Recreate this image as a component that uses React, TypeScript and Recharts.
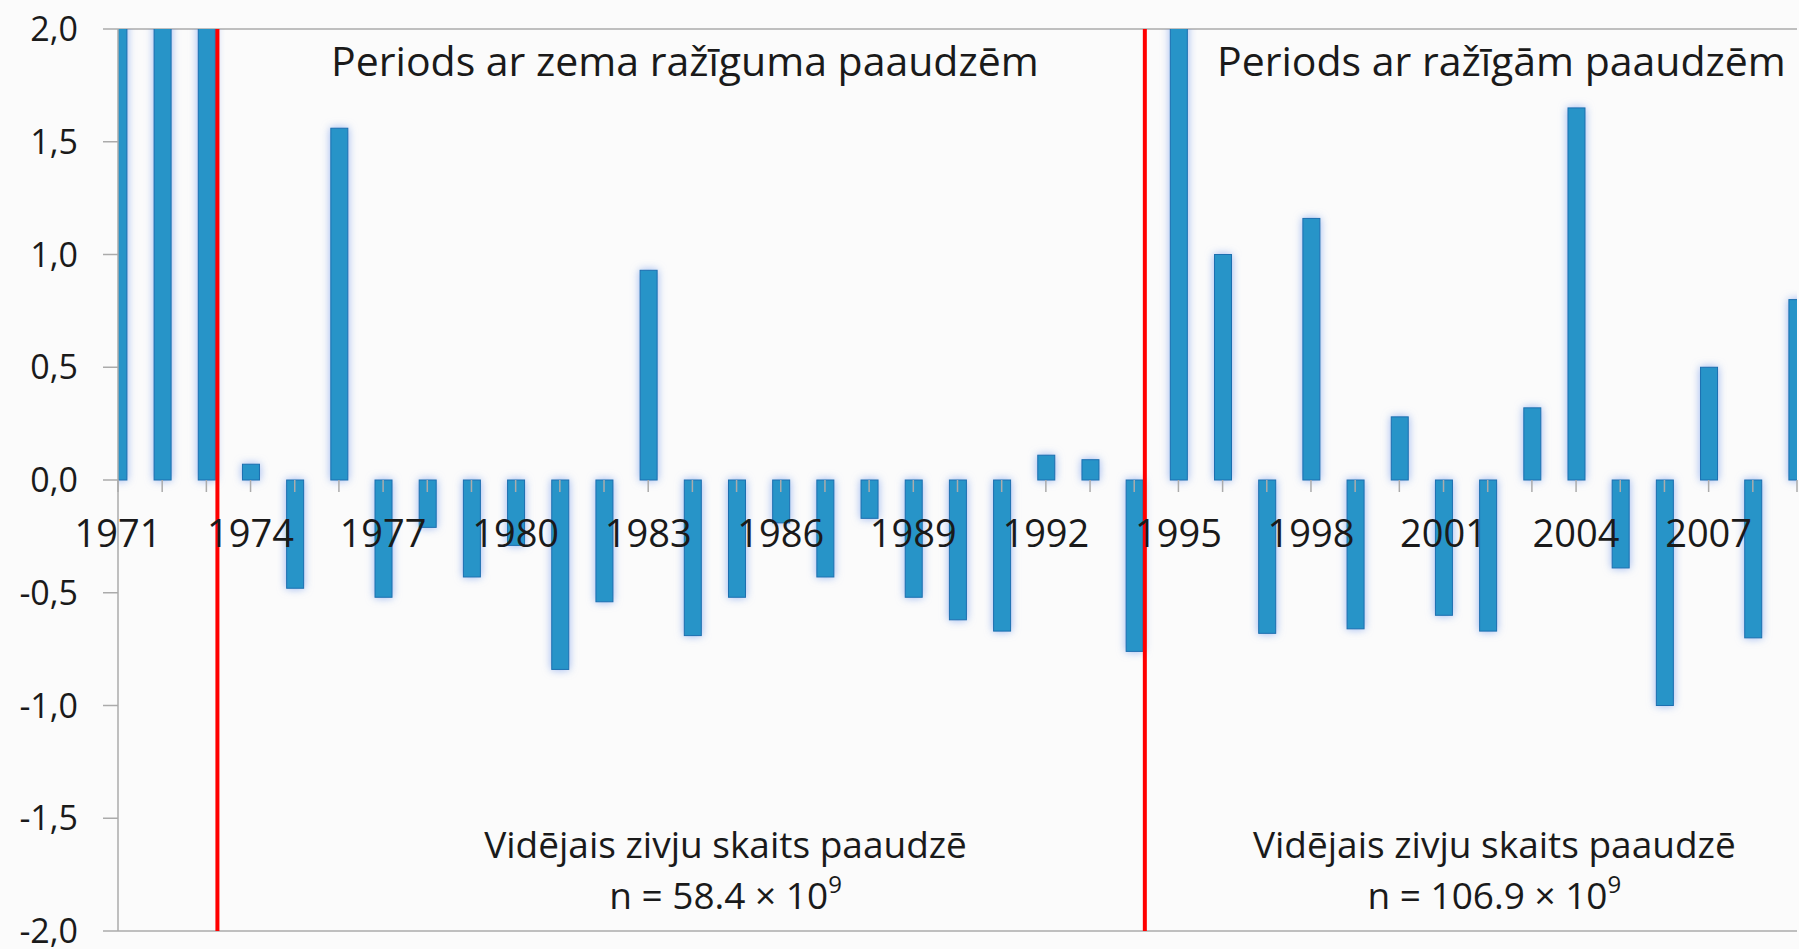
import React from 'react';
import {
  ComposedChart,
  Bar,
  Scatter,
  XAxis,
  YAxis,
  CartesianGrid,
  ReferenceLine,
  ReferenceDot,
} from 'recharts';

// years of recruitment and the standardised anomaly per year
const years = [
  1971, 1972, 1973, 1974, 1975, 1976, 1977, 1978, 1979, 1980,
  1981, 1982, 1983, 1984, 1985, 1986, 1987, 1988, 1989, 1990,
  1991, 1992, 1993, 1994, 1995, 1996, 1997, 1998, 1999, 2000,
  2001, 2002, 2003, 2004, 2005, 2006, 2007, 2008, 2009,
];
const anomaly = [
  2.5, 2.5, 2.5, 0.07, -0.48, 1.56, -0.52, -0.21, -0.43, -0.29,
  -0.84, -0.54, 0.93, -0.69, -0.52, -0.19, -0.43, -0.17, -0.52, -0.62,
  -0.67, 0.11, 0.09, -0.76, 2.5, 1.0, -0.68, 1.16, -0.66, 0.28,
  -0.6, -0.67, 0.32, 1.65, -0.39, -1.0, 0.5, -0.7, 0.8,
];
const labelYears = [1971, 1974, 1977, 1980, 1983, 1986, 1989, 1992, 1995, 1998, 2001, 2004, 2007];
const yTicks = [-2, -1.5, -1, -0.5, 0, 0.5, 1, 1.5, 2];
const periodBreaks = [1973.25, 1994.24];
const periodTitles = ['Periods ar zema ražīguma paaudzēm', 'Periods ar ražīgām paaudzēm'];
const meanLabel = 'Vidējais zivju skaits paaudzē';
const meanValues = ['58.4', '106.9'];

const FONT = "'Open Sans', sans-serif";
const TEXT = '#1a1a1a';
const GRID = '#ababab';

const data = years.map((year, i) => ({ year, value: anomaly[i] }));
const tickData = years.map((year) => ({ year, zero: 0 }));

// bar with a soft blue halo like the Excel 2007 style
const GlowBar = (props: any) => {
  const { x, y, width, height } = props;
  if (height == null || width == null) return null;
  const top = height < 0 ? y + height : y;
  const h = Math.abs(height);
  return (
    <rect
      x={x}
      y={top}
      width={width}
      height={h}
      fill="#2794c8"
      stroke="#1c6fb0"
      strokeWidth={1}
      style={{ filter: 'drop-shadow(0 0 4px rgba(110,150,235,0.7))' }}
    />
  );
};

// category tick + year label, sitting on the zero line
const ZeroTick = (props: any) => {
  const { cx, cy, payload } = props;
  const showLabel = labelYears.includes(payload.year);
  return (
    <g>
      <line x1={cx} y1={cy} x2={cx} y2={cy + 12} stroke={GRID} strokeWidth={1.5} />
      {showLabel && (
        <text x={cx} y={cy + 67} textAnchor="middle" fontFamily={FONT} fontSize={38} fill={TEXT}>
          {payload.year}
        </text>
      )}
    </g>
  );
};

const titleShape = (label: string) => (props: any) => (
  <text x={props.cx} y={props.cy} textAnchor="middle" fontFamily={FONT} fontSize={41} fill={TEXT}>
    {label}
  </text>
);

const meanShape = (n: string) => (props: any) => (
  <text x={props.cx} y={props.cy} textAnchor="middle" fontFamily={FONT} fontSize={37} fill={TEXT}>
    <tspan x={props.cx}>{meanLabel}</tspan>
    <tspan x={props.cx} dy={51}>{`n = ${n} × 10`}</tspan>
    <tspan dy={-16} fontSize={24}>9</tspan>
  </text>
);

export default function App() {
  return (
    <div style={{ position: 'absolute', left: 0, top: 0, background: '#fbfbfb' }}>
      <ComposedChart
        width={1799}
        height={949}
        data={data}
        margin={{ top: 29, right: 2, bottom: 18, left: 0 }}
      >
        <CartesianGrid vertical={false} stroke={GRID} strokeWidth={1.5} />
        <XAxis
          xAxisId="main"
          dataKey="year"
          type="number"
          domain={[1971, 2009]}
          ticks={years}
          allowDataOverflow
          height={0}
          hide
        />
        <XAxis
          xAxisId="lbl"
          dataKey="year"
          type="number"
          domain={[1971, 2009]}
          ticks={years}
          height={0}
          hide
        />
        <YAxis
          yAxisId="main"
          domain={[-2, 2]}
          ticks={yTicks}
          allowDataOverflow
          width={118}
          tickSize={15}
          tickMargin={25}
          interval={0}
          axisLine={{ stroke: GRID, strokeWidth: 1.5 }}
          tickLine={{ stroke: GRID, strokeWidth: 1.5 }}
          tick={{ fill: TEXT, fontSize: 34, fontFamily: FONT }}
          tickFormatter={(v: number) => v.toFixed(1).replace('.', ',')}
        />
        <YAxis yAxisId="lbl" domain={[-2, 2]} width={0} hide />
        <Bar
          xAxisId="main"
          yAxisId="main"
          dataKey="value"
          barSize={17}
          shape={GlowBar}
          isAnimationActive={false}
        />
        <Scatter
          xAxisId="lbl"
          yAxisId="lbl"
          data={tickData}
          dataKey="zero"
          shape={ZeroTick}
          isAnimationActive={false}
        />
        {periodBreaks.map((x) => (
          <ReferenceLine key={x} xAxisId="main" yAxisId="main" x={x} stroke="#ff0000" strokeWidth={4} />
        ))}
        <ReferenceDot xAxisId="lbl" yAxisId="lbl" x={1983.83} y={1.79} r={0} shape={titleShape(periodTitles[0])} />
        <ReferenceDot xAxisId="lbl" yAxisId="lbl" x={2002.31} y={1.79} r={0} shape={titleShape(periodTitles[1])} />
        <ReferenceDot xAxisId="lbl" yAxisId="lbl" x={1984.75} y={-1.678} r={0} shape={meanShape(meanValues[0])} />
        <ReferenceDot xAxisId="lbl" yAxisId="lbl" x={2002.15} y={-1.678} r={0} shape={meanShape(meanValues[1])} />
      </ComposedChart>
    </div>
  );
}
